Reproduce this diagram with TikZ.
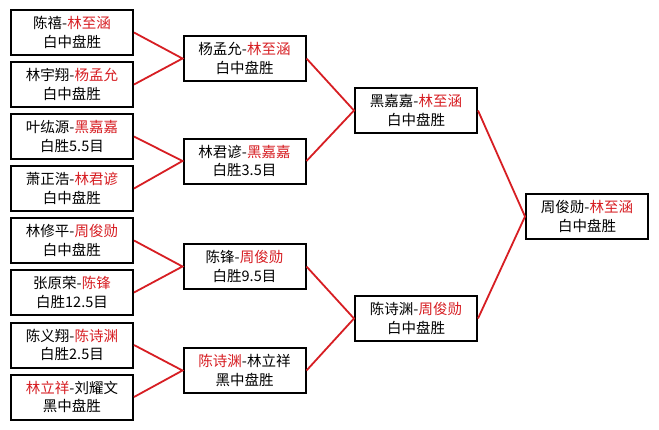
\documentclass[tikz,border=0pt]{standalone}
\usepackage{fontspec}
\setmainfont{Noto Sans CJK SC}
\definecolor{wred}{RGB}{215,30,35}
\tikzset{
  mbox/.style={draw=black, line width=2pt, fill=white, minimum width=122pt, minimum height=45pt,
    align=center, inner sep=1pt, font=\fontsize{14.5}{18.5}\selectfont},
  link/.style={draw=wred, line width=1.8pt}
}
\newcommand{\rr}[1]{\textcolor{wred}{#1}}
\begin{document}
\begin{tikzpicture}[x=1pt,y=-1pt]
\useasboundingbox (0,0) rectangle (659,429);
\fill[white] (0,0) rectangle (659,429);
% round 1
\node[mbox] (a1) at (72,32.5) {陈禧-\rr{林至涵}\\白中盘胜};
\node[mbox] (a2) at (72,84.5) {林宇翔-\rr{杨孟允}\\白中盘胜};
\node[mbox] (a3) at (72,136.5) {叶纮源-\rr{黑嘉嘉}\\白胜5.5目};
\node[mbox] (a4) at (72,188.5) {萧正浩-\rr{林君谚}\\白中盘胜};
\node[mbox] (a5) at (72,240.5) {林修平-\rr{周俊勋}\\白中盘胜};
\node[mbox] (a6) at (72,292.5) {张原荣-\rr{陈锋}\\白胜12.5目};
\node[mbox] (a7) at (72,345) {陈义翔-\rr{陈诗渊}\\白胜2.5目};
\node[mbox] (a8) at (72,397) {\rr{林立祥}-刘耀文\\黑中盘胜};
% round 2
\node[mbox] (b1) at (244.5,58.5) {杨孟允-\rr{林至涵}\\白中盘胜};
\node[mbox] (b2) at (244.5,161) {林君谚-\rr{黑嘉嘉}\\白胜3.5目};
\node[mbox] (b3) at (244.5,266.5) {陈锋-\rr{周俊勋}\\白胜9.5目};
\node[mbox] (b4) at (244.5,370.5) {\rr{陈诗渊}-林立祥\\黑中盘胜};
% round 3
\node[mbox] (c1) at (416,110.5) {黑嘉嘉-\rr{林至涵}\\白中盘胜};
\node[mbox] (c2) at (416,318.5) {陈诗渊-\rr{周俊勋}\\白中盘胜};
% final
\node[mbox] (d1) at (587,216.5) {周俊勋-\rr{林至涵}\\白中盘胜};
% links
\draw[link] (a1.east) -- (b1.west) -- (a2.east);
\draw[link] (a3.east) -- (b2.west) -- (a4.east);
\draw[link] (a5.east) -- (b3.west) -- (a6.east);
\draw[link] (a7.east) -- (b4.west) -- (a8.east);
\draw[link] (b1.east) -- (c1.west) -- (b2.east);
\draw[link] (b3.east) -- (c2.west) -- (b4.east);
\draw[link] (c1.east) -- (d1.west) -- (c2.east);
\end{tikzpicture}
\end{document}
